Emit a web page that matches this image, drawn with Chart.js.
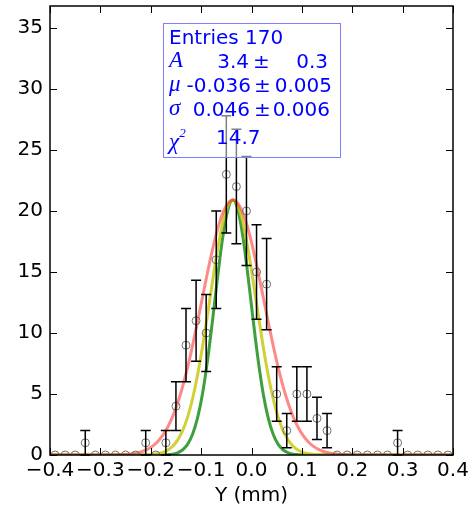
<!DOCTYPE html>
<html>
<head>
<meta charset="utf-8">
<script src="https://cdn.jsdelivr.net/npm/chart.js@4.4.0/dist/chart.umd.min.js"></script>
<style>
  body { margin: 0; background: #fff; }
  #wrap { position: relative; width: 470px; height: 509px; }
  #stats {
    position: absolute; left: 163px; top: 23px; width: 176px; height: 133px;
    border: 1.5px solid #8080ff; background: rgba(255, 255, 255, 0.5);
    color: #0000ff; font-family: "DejaVu Sans", sans-serif; font-size: 20px;
  }
  #stats span { position: absolute; line-height: 24px; white-space: nowrap; }
  #stats .sym { font-family: "Liberation Serif", serif; font-style: italic; font-size: 23px; }
  #stats .r { text-align: right; }
  #stats sup { font-size: 13px; position: relative; top: -3px; }
</style>
</head>
<body>
<div id="wrap">
  <canvas id="chart" width="470" height="509"></canvas>
  <div id="stats">
    <span style="left:5px; top:1px;">Entries 170</span>

    <span class="sym" style="left:5px; top:24px;">A</span>
    <span class="r" style="left:36px; width:49px; top:25px;">3.4</span>
    <span style="left:89px; top:25px;">±</span>
    <span class="r" style="left:116px; width:48px; top:25px;">0.3</span>

    <span class="sym" style="left:5px; top:48px;">μ</span>
    <span class="r" style="left:16px; width:71px; top:49px;">-0.036</span>
    <span style="left:90px; top:49px;">±</span>
    <span class="r" style="left:110px; width:58px; top:49px;">0.005</span>

    <span class="sym" style="left:5px; top:72px;">σ</span>
    <span class="r" style="left:16px; width:70px; top:73px;">0.046</span>
    <span style="left:90px; top:73px;">±</span>
    <span class="r" style="left:108px; width:58px; top:73px;">0.006</span>

    <span class="sym" style="left:5px; top:100px;">χ<sup>2</sup></span>
    <span style="left:52px; top:101px;">14.7</span>
  </div>
</div>
<script>
// histogram bins (centres), counts and their error bars
const binCenters = [-0.39, -0.37, -0.35, -0.33, -0.31, -0.29, -0.27, -0.25, -0.23, -0.21,
                    -0.19, -0.17, -0.15, -0.13, -0.11, -0.09, -0.07, -0.05, -0.03, -0.01,
                    0.01, 0.03, 0.05, 0.07, 0.09, 0.11, 0.13, 0.15, 0.17, 0.19,
                    0.21, 0.23, 0.25, 0.27, 0.29, 0.31, 0.33, 0.35, 0.37, 0.39];
const counts = [0, 0, 0, 1, 0, 0, 0, 0, 0, 1,
                0, 1, 4, 9, 11, 10, 16, 23, 22, 20,
                15, 14, 5, 2, 5, 5, 3, 2, 0, 0,
                0, 0, 0, 0, 1, 0, 0, 0, 0, 0];
const errors = [0, 0, 0, 1, 0, 0, 0, 0, 0, 1,
                0, 1, 2, 3, 3.32, 3.16, 4, 4.8, 4.69, 4.47,
                3.87, 3.74, 2.24, 1.41, 2.24, 2.24, 1.73, 1.41, 0, 0,
                0, 0, 0, 0, 1, 0, 0, 0, 0, 0];

// fitted curves
const curveX = [-0.4, -0.297, -0.287, -0.277, -0.267, -0.257, -0.247, -0.237, -0.227, -0.217,
                -0.207, -0.197, -0.187, -0.177, -0.167, -0.157, -0.147, -0.137, -0.127, -0.117,
                -0.107, -0.097, -0.087, -0.077, -0.067, -0.057, -0.047, -0.037, -0.027, -0.017,
                -0.007, 0.003, 0.013, 0.023, 0.033, 0.043, 0.053, 0.063, 0.073, 0.083,
                0.093, 0.103, 0.113, 0.123, 0.133, 0.143, 0.153, 0.163, 0.173, 0.183,
                0.193, 0.203, 0.213, 0.223, 0.4];
const redCurve = [0, 0.003, 0.005, 0.01, 0.02, 0.035, 0.06, 0.11, 0.18, 0.29,
                  0.46, 0.71, 1.07, 1.57, 2.24, 3.11, 4.22, 5.57, 7.16, 8.97,
                  10.94, 12.99, 15.02, 16.92, 18.56, 19.82, 20.63, 20.9, 20.63, 19.82,
                  18.56, 16.92, 15.02, 12.99, 10.94, 8.97, 7.16, 5.57, 4.22, 3.11,
                  2.24, 1.57, 1.07, 0.71, 0.46, 0.29, 0.18, 0.11, 0.06, 0.035,
                  0.02, 0.01, 0.005, 0.003, 0];
const yellowCurve = [0, 0, 0, 0, 0, 0, 0, 0, 0, 0.01,
                     0.023, 0.05, 0.10, 0.20, 0.39, 0.70, 1.20, 1.97, 3.08, 4.61,
                     6.57, 8.93, 11.58, 14.32, 16.90, 19.02, 20.41, 20.9, 20.41, 19.02,
                     16.90, 14.32, 11.58, 8.93, 6.57, 4.61, 3.08, 1.97, 1.20, 0.70,
                     0.39, 0.20, 0.10, 0.05, 0.023, 0.01, 0, 0, 0, 0,
                     0, 0, 0, 0, 0];
const greenCurve = [0, 0, 0, 0, 0, 0, 0, 0, 0, 0,
                    0, 0, 0, 0.01, 0.03, 0.07, 0.18, 0.41, 0.87, 1.70,
                    3.06, 5.09, 7.84, 11.16, 14.68, 17.86, 20.10, 20.9, 20.10, 17.86,
                    14.68, 11.16, 7.84, 5.09, 3.06, 1.70, 0.87, 0.41, 0.18, 0.07,
                    0.03, 0.01, 0, 0, 0, 0, 0, 0, 0, 0,
                    0, 0, 0, 0, 0];

const xTicks = [-0.4, -0.3, -0.2, -0.1, 0.0, 0.1, 0.2, 0.3, 0.4];
const xTickLabels = ['\u22120.4', '\u22120.3', '\u22120.2', '\u22120.1', '0.0', '0.1', '0.2', '0.3', '0.4'];
const yTicks = [0, 5, 10, 15, 20, 25, 30, 35];

const pts = (xs, ys) => xs.map((x, i) => ({ x: x, y: ys[i] }));

// matplotlib-like frame, inward ticks and error bars
const frameAndBars = {
  id: 'frameAndBars',
  afterDatasetsDraw(chart) {
    const { ctx, chartArea: a, scales: { x, y } } = chart;
    ctx.save();
    ctx.strokeStyle = '#000';
    ctx.lineWidth = 1.5;
    binCenters.forEach((c, i) => {
      if (!errors[i]) return;
      const px = x.getPixelForValue(c);
      const lo = y.getPixelForValue(counts[i] - errors[i]);
      const hi = y.getPixelForValue(counts[i] + errors[i]);
      ctx.beginPath();
      ctx.moveTo(px, lo); ctx.lineTo(px, hi);
      ctx.moveTo(px - 5, lo); ctx.lineTo(px + 5, lo);
      ctx.moveTo(px - 5, hi); ctx.lineTo(px + 5, hi);
      ctx.stroke();
    });

    ctx.lineWidth = 1;
    ctx.beginPath();
    xTicks.forEach(v => {
      const px = Math.round(x.getPixelForValue(v)) + 0.5;
      ctx.moveTo(px, a.bottom); ctx.lineTo(px, a.bottom - 7);
      ctx.moveTo(px, a.top); ctx.lineTo(px, a.top + 7);
    });
    yTicks.forEach(v => {
      const py = Math.round(y.getPixelForValue(v)) + 0.5;
      ctx.moveTo(a.left, py); ctx.lineTo(a.left + 7, py);
      ctx.moveTo(a.right, py); ctx.lineTo(a.right - 7, py);
    });
    ctx.stroke();

    ctx.lineWidth = 1.5;
    ctx.strokeRect(a.left, a.top, a.right - a.left, a.bottom - a.top);
    ctx.restore();
  }
};

Chart.defaults.font.family = '"DejaVu Sans", sans-serif';
Chart.defaults.color = '#000';

new Chart(document.getElementById('chart'), {
  type: 'scatter',
  data: {
    datasets: [
      {
        label: 'data',
        data: pts(binCenters, counts),
        pointRadius: 4,
        pointBorderWidth: 1,
        pointBorderColor: '#707070',
        pointBackgroundColor: 'rgba(0,0,0,0)',
        order: 0
      },
      {
        label: 'wide',
        data: pts(curveX, redCurve),
        showLine: true,
        pointRadius: 0,
        borderColor: 'rgba(255,40,40,0.55)',
        borderWidth: 3,
        cubicInterpolationMode: 'monotone',
        order: 1
      },
      {
        label: 'fit',
        data: pts(curveX, yellowCurve),
        showLine: true,
        pointRadius: 0,
        borderColor: 'rgba(200,200,20,0.85)',
        borderWidth: 3,
        cubicInterpolationMode: 'monotone',
        order: 2
      },
      {
        label: 'narrow',
        data: pts(curveX, greenCurve),
        showLine: true,
        pointRadius: 0,
        borderColor: 'rgba(40,150,40,0.9)',
        borderWidth: 3,
        cubicInterpolationMode: 'monotone',
        order: 3
      }
    ]
  },
  options: {
    responsive: false,
    animation: false,
    layout: { padding: { top: 6, right: 17, left: 0, bottom: 0 } },
    plugins: { legend: { display: false }, tooltip: { enabled: false } },
    scales: {
      x: {
        type: 'linear',
        min: -0.4,
        max: 0.4,
        grid: { display: false, drawTicks: false },
        border: { display: false },
        afterBuildTicks: s => { s.ticks = xTicks.map(v => ({ value: v })); },
        afterFit: s => { s.height = 54; s.paddingLeft = 0; s.paddingRight = 0; },
        ticks: {
          autoSkip: false,
          maxRotation: 0,
          padding: 4,
          font: { size: 20 },
          callback: (v, i) => xTickLabels[i]
        },
        title: { display: true, text: 'Y (mm)', font: { size: 20 }, padding: { top: 0, bottom: 1 } }
      },
      y: {
        min: 0,
        max: 36.8,
        grid: { display: false, drawTicks: false },
        border: { display: false },
        afterBuildTicks: s => { s.ticks = yTicks.map(v => ({ value: v })); },
        afterFit: s => { s.width = 50; s.paddingTop = 0; s.paddingBottom = 0; },
        ticks: { padding: 7, font: { size: 20 } }
      }
    }
  },
  plugins: [frameAndBars]
});
</script>
</body>
</html>
